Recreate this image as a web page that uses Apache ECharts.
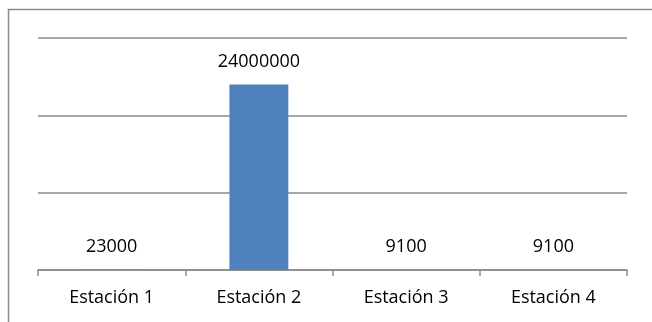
<!DOCTYPE html>
<html>
<head>
<meta charset="utf-8">
<script src="https://cdn.jsdelivr.net/npm/echarts@6/dist/echarts.min.js"></script>
<style>
  html, body { margin: 0; padding: 0; background: #fff; }
  #chart { width: 652px; height: 322px; }
</style>
</head>
<body>
<div id="chart"></div>
<script>
// Station names along the horizontal axis
const stations = ['Estación 1', 'Estación 2', 'Estación 3', 'Estación 4'];
// Measured value per station
const values = [23000, 24000000, 9100, 9100];
// Value axis range
const yMax = 30000000;
const yStep = 10000000;

const chart = echarts.init(document.getElementById('chart'));
const font = '"Open Sans", sans-serif';

chart.setOption({
  animation: false,
  graphic: [{
    type: 'rect',
    shape: { x: 8.5, y: 9.5, width: 800, height: 500 },
    style: { fill: 'none', stroke: '#8a8a8a', lineWidth: 1.5 },
    silent: true
  }],
  grid: { left: 38, right: 25, top: 38, bottom: 52 },
  xAxis: {
    type: 'category',
    data: stations,
    axisLine: { lineStyle: { color: '#8a8a8a', width: 1.5 } },
    axisTick: { show: true, length: 6, lineStyle: { color: '#8a8a8a', width: 1.5 } },
    axisLabel: { color: '#000', fontFamily: font, fontSize: 18, margin: 19 }
  },
  yAxis: {
    type: 'value',
    min: 0,
    max: yMax,
    interval: yStep,
    axisLabel: { show: false },
    axisLine: { show: false },
    axisTick: { show: false },
    splitLine: { lineStyle: { color: '#8a8a8a', width: 1.5 } }
  },
  series: [{
    type: 'bar',
    data: values,
    barWidth: '40%',
    itemStyle: { color: '#4F81BD' },
    label: {
      show: true,
      position: 'top',
      distance: 14,
      color: '#000',
      fontFamily: font,
      fontSize: 18
    }
  }]
});
</script>
</body>
</html>
